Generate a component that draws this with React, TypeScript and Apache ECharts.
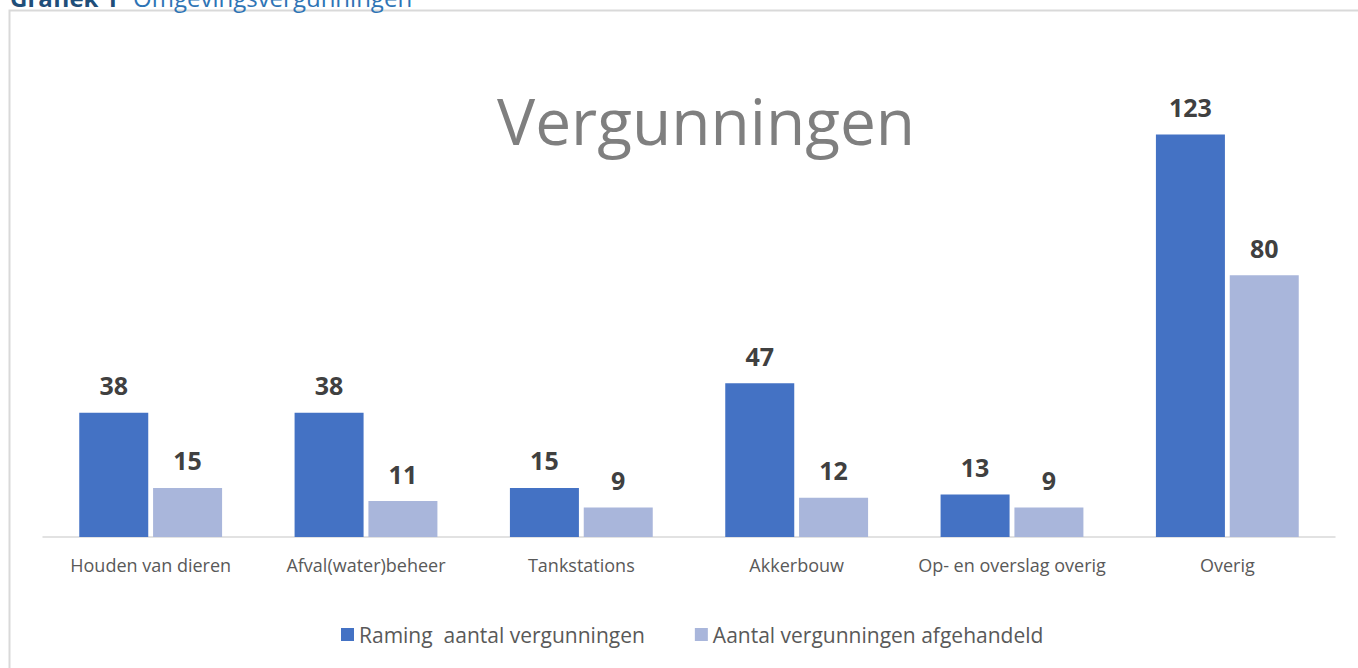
import React, { useEffect, useRef } from "react";
import * as echarts from "echarts";

const categories = [
  "Houden van dieren",
  "Afval(water)beheer",
  "Tankstations",
  "Akkerbouw",
  "Op- en overslag overig",
  "Overig",
];
const ramingValues = [38, 38, 15, 47, 13, 123];
const afgehandeldValues = [15, 11, 9, 12, 9, 80];
const seriesNames = ["Raming  aantal vergunningen", "Aantal vergunningen afgehandeld"];
const chartTitle = "Vergunningen";
const headerBold = "Grafiek 1";
const headerRest = "Omgevingsvergunningen";

const FONT = "'Open Sans', 'Noto Sans', sans-serif";

export default function App() {
  const ref = useRef<HTMLDivElement>(null);
  useEffect(() => {
    if (!ref.current) return;
    const chart = echarts.init(ref.current, undefined, { renderer: "svg" });
    const labelStyle = {
      show: true,
      position: "top" as const,
      distance: 15,
      color: "#404040",
      fontSize: 25,
      fontWeight: "bold" as const,
      fontFamily: FONT,
    };
    chart.setOption({
      animation: false,
      backgroundColor: "#ffffff",
      textStyle: { fontFamily: FONT },
      title: {
        text: chartTitle,
        left: 492,
        top: 83,
        textStyle: { color: "#7f7f7f", fontSize: 64, fontWeight: "normal", fontFamily: FONT },
      },
      graphic: [
        {
          type: "rect",
          shape: { x: 9.5, y: 10.5, width: 1360, height: 670 },
          style: { fill: "none", stroke: "#d9d9d9", lineWidth: 2 },
          silent: true,
        },
        {
          type: "text",
          x: 10,
          y: 9,
          style: {
            text: headerBold,
            fill: "#1f4e79",
            font: "bold 24px " + FONT,
            verticalAlign: "bottom",
          },
        },
        {
          type: "text",
          x: 133,
          y: 9,
          style: {
            text: headerRest,
            fill: "#2e74b5",
            font: "24px " + FONT,
            verticalAlign: "bottom",
          },
        },
      ],
      legend: {
        bottom: 18,
        left: 336,
        itemWidth: 13,
        itemHeight: 13,
        itemGap: 50,
        icon: "rect",
        textStyle: { color: "#595959", fontSize: 21, fontFamily: FONT },
        data: seriesNames,
      },
      grid: { left: 43, right: 23, top: 79, bottom: 131 },
      xAxis: {
        type: "category",
        data: categories,
        axisLine: { lineStyle: { color: "#d9d9d9", width: 1.5 } },
        axisTick: { show: false },
        axisLabel: { interval: 0, color: "#595959", fontSize: 18, margin: 19, fontFamily: FONT },
      },
      yAxis: {
        type: "value",
        min: 0,
        max: 140,
        show: false,
        splitLine: { show: false },
      },
      series: [
        {
          name: seriesNames[0],
          type: "bar",
          data: ramingValues,
          barWidth: 69,
          barGap: "7%",
          itemStyle: { color: "#4472c4" },
          label: labelStyle,
        },
        {
          name: seriesNames[1],
          type: "bar",
          data: afgehandeldValues,
          barWidth: 69,
          itemStyle: { color: "#a9b6db" },
          label: labelStyle,
        },
      ],
    });
    return () => chart.dispose();
  }, []);
  return (
    <div
      ref={ref}
      style={{ position: "absolute", left: 0, top: 0, width: 1358, height: 668 }}
    />
  );
}
